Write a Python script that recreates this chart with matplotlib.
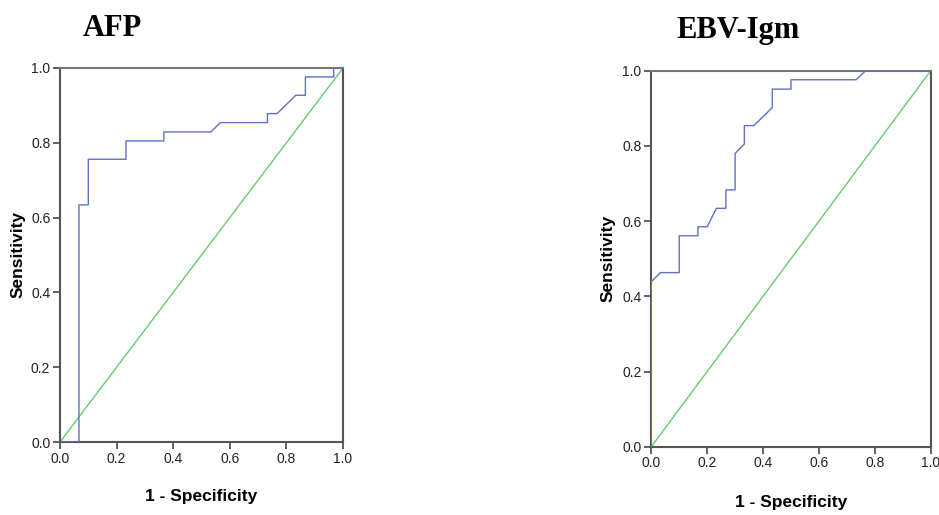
import matplotlib
matplotlib.use("Agg")
import matplotlib.pyplot as plt

# ROC curve points (1 - specificity, sensitivity)
afp_fpr = [0.0, 0.067, 0.067, 0.100, 0.100, 0.233, 0.233, 0.367, 0.367, 0.533,
           0.567, 0.733, 0.733, 0.767, 0.833, 0.867, 0.867, 0.967, 0.967, 1.0]
afp_tpr = [0.0, 0.0, 0.634, 0.634, 0.756, 0.756, 0.805, 0.805, 0.829, 0.829,
           0.854, 0.854, 0.878, 0.878, 0.927, 0.927, 0.976, 0.976, 1.0, 1.0]

ebv_fpr = [0.0, 0.0, 0.033, 0.100, 0.100, 0.167, 0.167, 0.200, 0.233, 0.267,
           0.267, 0.300, 0.300, 0.333, 0.333, 0.367, 0.433, 0.433, 0.500, 0.500,
           0.733, 0.767, 1.0]
ebv_tpr = [0.0, 0.439, 0.463, 0.463, 0.561, 0.561, 0.585, 0.585, 0.634, 0.634,
           0.683, 0.683, 0.780, 0.805, 0.854, 0.854, 0.902, 0.951, 0.951, 0.976,
           0.976, 1.0, 1.0]

ticks = [0.0, 0.2, 0.4, 0.6, 0.8, 1.0]
tick_labels = ["0.0", "0.2", "0.4", "0.6", "0.8", "1.0"]

sans = ["Liberation Sans", "DejaVu Sans"]
serif = ["Liberation Serif", "DejaVu Serif"]

blue = "#6070c4"
green = "#66cc6e"
axis_col = "#555555"

fig = plt.figure(figsize=(9.39, 5.15), dpi=100)

panels = [
    # (axes rect, fpr, tpr, title, title x, title y, ylabel x, ylabel y, xlabel y)
    ([0.0639, 0.1417, 0.3014, 0.7263], afp_fpr, afp_tpr, "AFP", 0.120, 0.945, 0.019, 0.505, 0.035),
    ([0.6936, 0.1326, 0.2976, 0.7301], ebv_fpr, ebv_tpr, "EBV-Igm", 0.786, 0.940, 0.648, 0.499, 0.025),
]

for rect, fpr, tpr, title, tx, ty, ylx, yly, xly in panels:
    ax = fig.add_axes(rect)
    ax.plot([0, 1], [0, 1], color=green, linewidth=1.0, zorder=2)
    ax.plot(fpr, tpr, color=blue, linewidth=1.0, zorder=3)
    ax.set_xlim(0, 1)
    ax.set_ylim(0, 1)
    ax.set_xticks(ticks)
    ax.set_yticks(ticks)
    ax.set_xticklabels(tick_labels, family=sans, fontsize=10, color="#222222")
    ax.set_yticklabels(tick_labels, family=sans, fontsize=10, color="#222222")
    ax.tick_params(direction="out", length=5, width=1.3, color=axis_col, pad=2)
    for side in ["left", "right", "top", "bottom"]:
        ax.spines[side].set_color(axis_col)
        ax.spines[side].set_linewidth(1.5)
    ax.spines["top"].set_color("#777777")

    # titles and axis labels placed in figure coordinates
    fig.text(tx, ty, title, family=serif, fontsize=22, fontweight="bold",
             ha="center", va="center")
    fig.text(rect[0] + rect[2] / 2, xly, "1 - Specificity", family=sans,
             fontsize=12.5, fontweight="bold", ha="center", va="center")
    fig.text(ylx, yly, "Sensitivity", family=sans,
             fontsize=12.5, fontweight="bold", rotation=90, ha="center", va="center")

fig.savefig("out.png", dpi=100)
